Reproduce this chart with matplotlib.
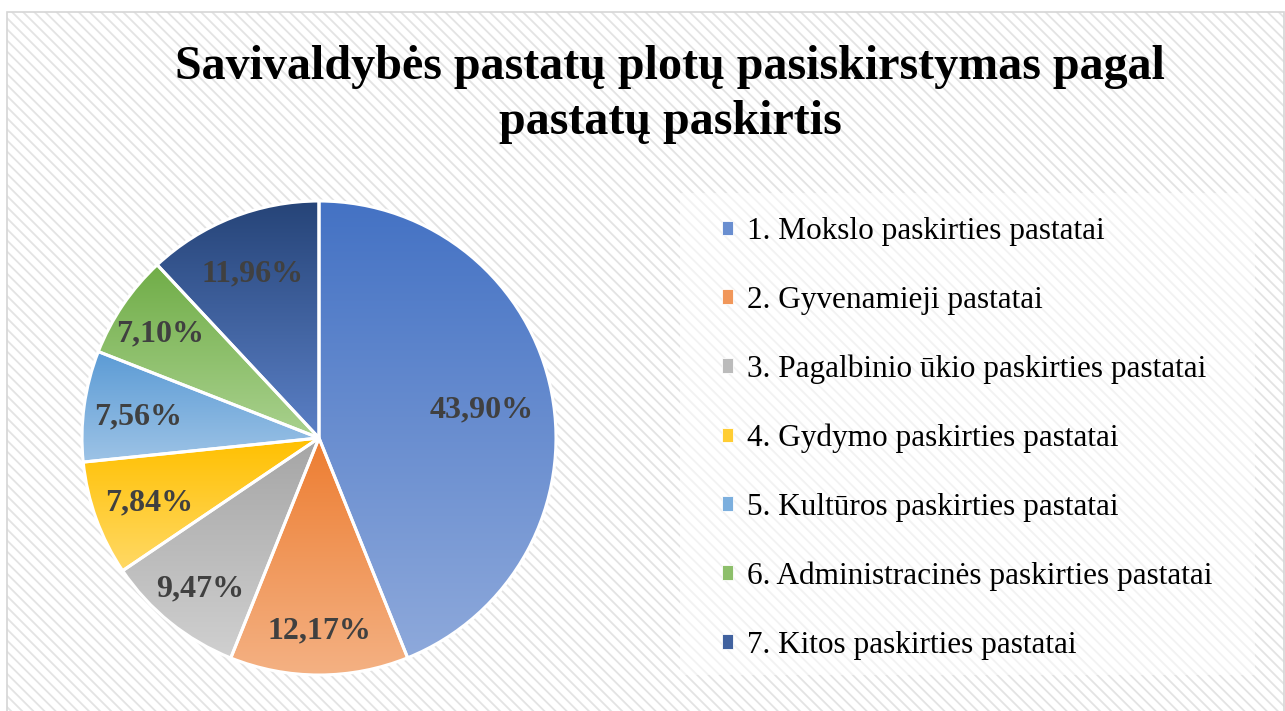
import numpy as np
import matplotlib
matplotlib.use("Agg")
import matplotlib.pyplot as plt
from matplotlib.patches import Rectangle, Patch
from matplotlib.colors import LinearSegmentedColormap, to_rgb

plt.rcParams['font.family'] = ['Liberation Serif', 'DejaVu Serif']

# ---------------- data ----------------
title = "Savivaldybės pastatų plotų pasiskirstymas pagal\npastatų paskirtis"
categories = [
    "1. Mokslo paskirties pastatai",
    "2. Gyvenamieji pastatai",
    "3. Pagalbinio ūkio paskirties pastatai",
    "4. Gydymo paskirties pastatai",
    "5. Kultūros paskirties pastatai",
    "6. Administracinės paskirties pastatai",
    "7. Kitos paskirties pastatai",
]
values = [43.90, 12.17, 9.47, 7.84, 7.56, 7.10, 11.96]
top_colors = ["#4472C4", "#ED7D31", "#A5A5A5", "#FFC000", "#5B9BD5", "#70AD47", "#264478"]
bottom_colors = ["#8EA9DB", "#F4B183", "#D0D0D0", "#FFD966", "#9DC3E6", "#A9D18E", "#5B80C6"]
label_dist = [0.70, 0.80, 0.80, 0.76, 0.77, 0.81, 0.76]

# ---------------- figure ----------------
W, H = 1285, 711
fig = plt.figure(figsize=(W / 100, H / 100), dpi=100)
fig.patch.set_facecolor('white')

# hatched chart-area background
plt.rcParams['hatch.linewidth'] = 1.3
bg = Rectangle((7 / W, 0), (1284 - 7) / W, (H - 12) / H, transform=fig.transFigure,
               facecolor='white', edgecolor='#E3E3E3', linewidth=0, hatch='\\\\\\', zorder=0)
fig.add_artist(bg)
border = Rectangle((7 / W, -0.01), (1284 - 7) / W, (H - 12) / H + 0.01, transform=fig.transFigure,
                   facecolor='none', edgecolor='#D6D6D6', linewidth=1.2, zorder=0.5)
fig.add_artist(border)

# legend background box
lbox = Rectangle((680 / W, (H - 675) / H), (1255 - 680) / W, (675 - 193) / H,
                 transform=fig.transFigure, facecolor='white', alpha=0.55,
                 edgecolor='none', zorder=0.6)
fig.add_artist(lbox)

# title
fig.text(670 / W, (H - 134) / H, title, ha='center', va='baseline', fontsize=34.6,
         fontweight='bold', color='black', linespacing=1.32, zorder=3)

# pie
cx, cy, R = 319, H - 438, 237
ax = fig.add_axes([(cx - R) / W, (cy - R) / H, 2 * R / W, 2 * R / H])
ax.patch.set_visible(False)
wedges, _ = ax.pie(values, startangle=90, counterclock=False, radius=1,
                   colors=['none'] * len(values),
                   wedgeprops=dict(edgecolor='white', linewidth=2.2, zorder=3))
grad = np.linspace(0, 1, 256).reshape(-1, 1)
for w, ctop, cbot in zip(wedges, top_colors, bottom_colors):
    v = w.get_path().vertices
    cmap = LinearSegmentedColormap.from_list('g', [cbot, ctop])
    im = ax.imshow(grad, extent=[v[:, 0].min(), v[:, 0].max(), v[:, 1].min(), v[:, 1].max()],
                   origin='lower', cmap=cmap, aspect='auto', zorder=2, interpolation='bilinear')
    im.set_clip_path(w)

for w, val, d in zip(wedges, values, label_dist):
    ang = np.deg2rad((w.theta1 + w.theta2) / 2)
    ax.text(d * np.cos(ang), d * np.sin(ang), f"{val:.2f}%".replace('.', ','),
            ha='center', va='center_baseline', fontsize=23, fontweight='bold',
            color='#404040', zorder=4)

ax.set_xlim(-1, 1)
ax.set_ylim(-1, 1)
ax.set_aspect('auto')
ax.axis('off')

# legend
mid_colors = [tuple((np.array(to_rgb(a)) + np.array(to_rgb(b))) / 2)
              for a, b in zip(top_colors, bottom_colors)]
handles = [Patch(facecolor=c, edgecolor='white', linewidth=0.6) for c in mid_colors]
fs = 22.5
fig.legend(handles, categories, loc='upper left',
           bbox_to_anchor=(722 / W, (H - 217) / H), frameon=False,
           prop=dict(size=fs), handlelength=0.34, handleheight=0.34,
           handletextpad=0.45, labelspacing=1.27, borderpad=0, borderaxespad=0)

fig.savefig("out.png", dpi=100)
